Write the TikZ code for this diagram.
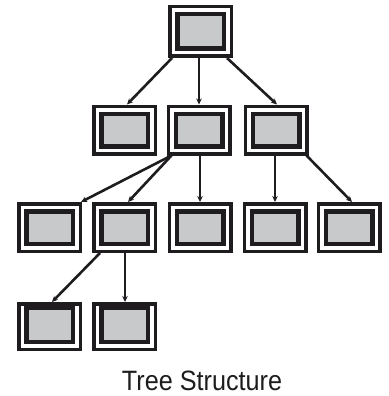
\documentclass[tikz,border=0pt]{standalone}
\usepackage{fontspec}
\newfontfamily\capfont[FakeStretch=0.9]{Liberation Sans}
\usetikzlibrary{arrows.meta}
\definecolor{boxgray}{RGB}{200,201,203}
\definecolor{ink}{RGB}{30,28,30}
\tikzset{
  tbox/.style={draw=ink, line width=3.5pt, minimum width=61.5pt, minimum height=47.5pt,
    inner sep=0pt, outer sep=1.75pt,
    path picture={\draw[ink, line width=4.5pt, fill=boxgray]
      ([shift={(7.5pt,-#1)}]path picture bounding box.north west) rectangle
      ([shift={(-7.5pt,7.5pt)}]path picture bounding box.south east);}},
  tbox/.default=7.5pt,
  link/.style={draw=ink, line width=2.6pt, -{Stealth[length=6pt,width=5.5pt]}},
}
\begin{document}
\begin{tikzpicture}[x=1pt,y=-1pt]
\useasboundingbox (0,0) rectangle (388,396);
% level 1
\node[tbox, minimum height=49.5pt] (r) at (200.5,31.5) {};
% level 2
\node[tbox] (a1) at (124.5,130) {};
\node[tbox] (a2) at (199,130) {};
\node[tbox] (a3) at (276,130) {};
% level 3
\node[tbox] (b1) at (49.5,227.5) {};
\node[tbox] (b2) at (124.5,227.5) {};
\node[tbox] (b3) at (200,227.5) {};
\node[tbox] (b4) at (275,227.5) {};
\node[tbox] (b5) at (349,227.5) {};
% level 4
\node[tbox=3.75pt, minimum height=45.5pt] (c1) at (49.5,326.5) {};
\node[tbox=3.75pt, minimum height=45.5pt] (c2) at (124.5,326.5) {};
% links
\draw[link] ([xshift=4pt]r.south west) -- ([xshift=2.5pt]a1.north);
\draw[link] ([xshift=-1.5pt]r.south) -- (a2.north);
\draw[link] ([xshift=-6pt]r.south east) -- ([xshift=1pt]a3.north);
\draw[link] ([xshift=5pt]a2.south west) -- ([xshift=-1pt]b1.north east);
\draw[link] ([xshift=5pt]a2.south west) -- ([xshift=3.5pt]b2.north);
\draw[link] ([xshift=1pt]a2.south) -- (b3.north);
\draw[link] ([xshift=-1pt]a3.south) -- (b4.north);
\draw[link] ([xshift=-2pt]a3.south east) -- ([xshift=3pt]b5.north);
\draw[link] ([xshift=8pt]b2.south west) -- ([xshift=2.5pt]c1.north);
\draw[link] ([xshift=0.5pt]b2.south) -- ([xshift=0.5pt]c2.north);
% caption
\node[anchor=base, inner sep=0pt, text=ink, font=\capfont\fontsize{28pt}{30pt}\selectfont] (cap) at (202,390) {Tree Structure};
\end{tikzpicture}
\end{document}
